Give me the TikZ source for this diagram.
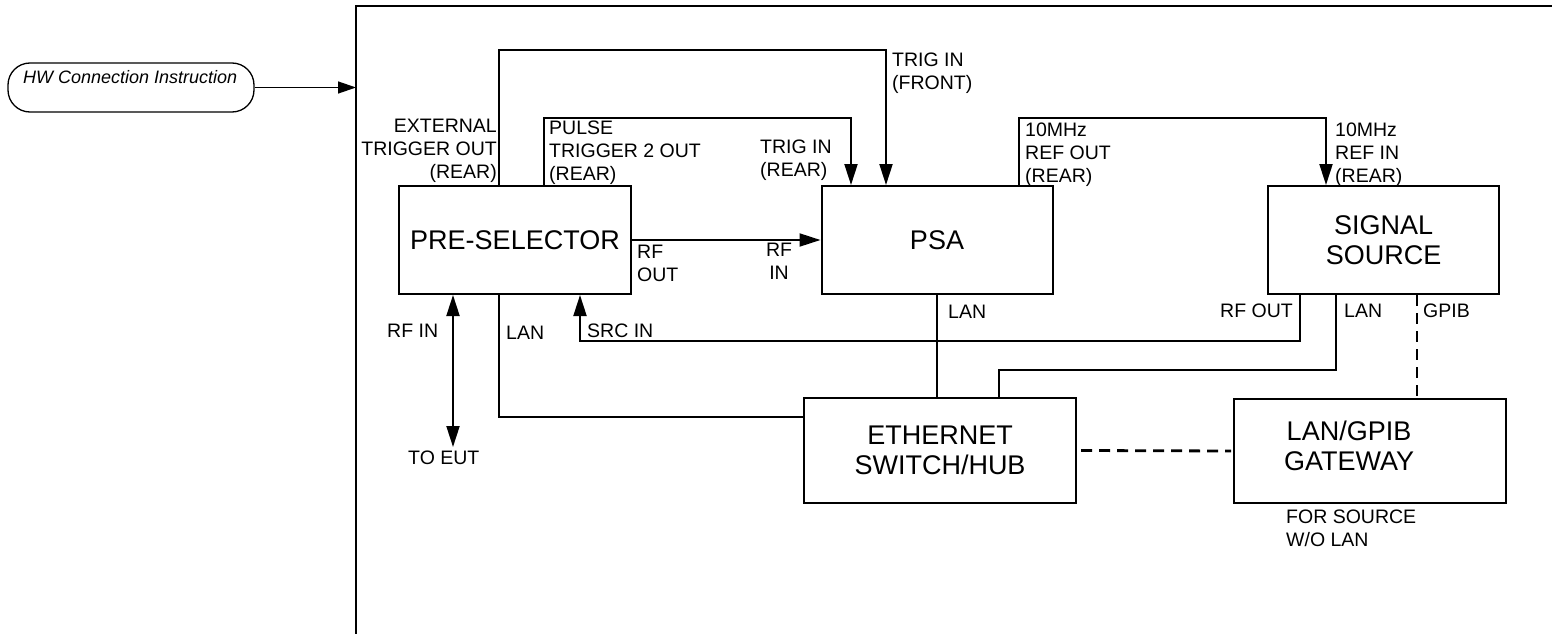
\documentclass[tikz,border=0pt]{standalone}
\usepackage{fontspec}
\setmainfont{Liberation Sans}
\usetikzlibrary{arrows.meta}
\tikzset{
  box/.style={draw, line width=2pt, rectangle, inner sep=0pt, font=\fontsize{27}{30.5}\selectfont, align=center},
  btext/.style={inner sep=0pt, font=\fontsize{27}{30.5}\selectfont, align=center},
  lbl/.style={inner sep=0pt, font=\fontsize{19.5}{23}\selectfont},
  wire/.style={line width=2pt},
  arr/.style={wire, -{Triangle[length=21pt,width=13pt]}},
  dbl/.style={wire, {Triangle[length=21pt,width=13pt]}-{Triangle[length=21pt,width=13pt]}},
  dashwire/.style={line width=2.8pt, dash pattern=on 11pt off 7pt},
  frameline/.style={line width=2.4pt},
  hwbox/.style={draw, line width=1.3pt, rounded corners=22pt, minimum width=246pt, minimum height=49pt, inner sep=0pt},
}
\begin{document}
\begin{tikzpicture}[x=1pt,y=-1pt]
\useasboundingbox (0,0) rectangle (1552,634);

% outer frame
\coordinate (fbot) at (356,634);
\coordinate (fcorner) at (356,6);
\coordinate (fright) at (1552,6);
\draw[frameline] (fbot) -- (fcorner) -- (fright);

% HW connection instruction
\node[hwbox] (hw) at (131,87.5) {};
\node[anchor=base west, inner sep=0pt, font=\fontsize{18}{21}\selectfont\itshape] (hwt) at (23,83) {HW Connection Instruction};
\coordinate (fin) at (356,87.5);
\draw[line width=1.3pt, -{Triangle[length=18pt,width=12pt]}] (hw.east) -- (fin);

% blocks
\node[box, minimum width=232pt, minimum height=108pt] (pre) at (515,240) {PRE-SELECTOR};
\node[box, minimum width=231pt, minimum height=108pt] (psa) at (937,240) {PSA};
\node[box, minimum width=231pt, minimum height=108pt] (sig) at (1383.5,240) {SIGNAL\\SOURCE};
\node[box, minimum width=272pt, minimum height=105pt] (eth) at (940,450.5) {ETHERNET\\SWITCH/HUB};
\node[box, minimum width=272pt, minimum height=104pt] (gw) at (1370,451) {};
\node[btext] (gwt) at (1349,446) {LAN/GPIB\\GATEWAY};

% trigger connections
\draw[arr] (pre.north -| 499,0) -- (499,50) -| (psa.north -| 886,0);
\draw[arr] (pre.north -| 544,0) -- (544,118) -| (psa.north -| 851,0);
% RF
\draw[arr] (pre.east) -- (psa.west);
% 10 MHz ref
\draw[arr] (psa.north -| 1019,0) -- (1019,118) -| (sig.north -| 1326,0);
% source RF out to SRC IN
\draw[arr] (sig.south -| 1300,0) |- (580,341) -- (pre.south -| 580,0);
% RF IN / TO EUT
\coordinate (eut) at (453,447);
\draw[dbl] (pre.south -| eut) -- (eut);
% LAN connections
\draw[wire] (pre.south -| 499,0) |- (eth.west |- 0,417);
\draw[wire] (psa.south) -- (psa.south |- eth.north);
\draw[wire] (sig.south -| 1336,0) |- (999,370) -- (eth.north -| 999,0);
% GPIB
\draw[dashwire] (sig.south -| 1417,0) -- (gw.north -| 1417,0);
\draw[dashwire] ([xshift=4pt]eth.east) -- ([xshift=-2pt]gw.west);

% labels
\node[lbl, anchor=north east, align=right] (l1) at (497,119) {EXTERNAL\\TRIGGER OUT\\(REAR)};
\node[lbl, anchor=north west, align=left] (l2) at (549,121) {PULSE\\TRIGGER 2 OUT\\(REAR)};
\node[lbl, anchor=north west, align=left] (l3) at (892,53) {TRIG IN\\(FRONT)};
\node[lbl, anchor=north west, align=left] (l4) at (760,140) {TRIG IN\\(REAR)};
\node[lbl, anchor=north west, align=left] (l5) at (1025,123) {10MHz\\REF OUT\\(REAR)};
\node[lbl, anchor=north west, align=left] (l6) at (1335,123) {10MHz\\REF IN\\(REAR)};
\node[lbl, anchor=north west, align=left] (l7) at (637,245) {RF\\OUT};
\node[lbl, anchor=north, align=center] (l8) at (779,243) {RF\\IN};
\node[lbl, anchor=base west] (l9) at (387,337) {RF IN};
\node[lbl, anchor=base west] (l10) at (506,339) {LAN};
\node[lbl, anchor=base west] (l11) at (587,337) {SRC IN};
\node[lbl, anchor=base west] (l12) at (408,464) {TO EUT};
\node[lbl, anchor=base west] (l13) at (948,318) {LAN};
\node[lbl, anchor=base east] (l14) at (1293,317) {RF OUT};
\node[lbl, anchor=base west] (l15) at (1344,317) {LAN};
\node[lbl, anchor=base west] (l16) at (1423,317) {GPIB};
\node[lbl, anchor=north west, align=left] (l17) at (1286,510) {FOR SOURCE\\W/O LAN};
\end{tikzpicture}
\end{document}
